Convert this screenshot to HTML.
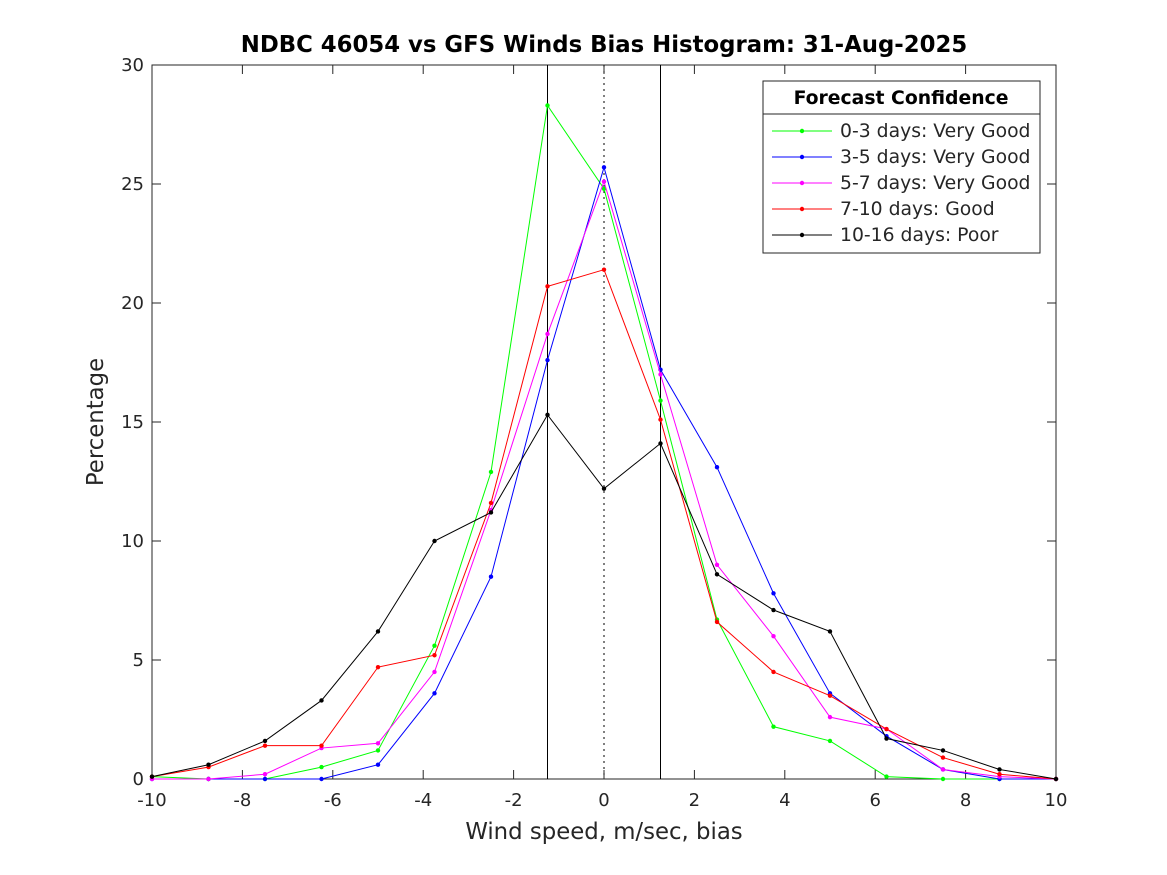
<!DOCTYPE html>
<html><head><meta charset="utf-8"><style>body{margin:0;background:#fff}svg{display:block}text{font-family:"DejaVu Sans","Liberation Sans",sans-serif;fill:#262626}</style></head>
<body>
<svg id="chart" width="1167" height="875" xmlns="http://www.w3.org/2000/svg">
<rect width="1167" height="875" fill="#fff"/>
<g id="plot"></g>
</svg>
<script>
const xBins = [-10,-8.75,-7.5,-6.25,-5,-3.75,-2.5,-1.25,0,1.25,2.5,3.75,5,6.25,7.5,8.75,10];
const seriesNames = ["0-3 days: Very Good","3-5 days: Very Good","5-7 days: Very Good","7-10 days: Good","10-16 days: Poor"];
const seriesColors = ["#00ff00","#0000ff","#ff00ff","#ff0000","#000000"];
const s03 = [0.1,0,0,0.5,1.2,5.6,12.9,28.3,24.8,15.9,6.7,2.2,1.6,0.1,0,0,0];
const s35 = [0,0,0,0,0.6,3.6,8.5,17.6,25.7,17.2,13.1,7.8,3.6,1.8,0.4,0,0];
const s57 = [0,0,0.2,1.3,1.5,4.5,11.3,18.7,25.1,17.0,9.0,6.0,2.6,2.1,0.4,0.1,0];
const s710 = [0.1,0.5,1.4,1.4,4.7,5.2,11.6,20.7,21.4,15.1,6.6,4.5,3.5,2.1,0.9,0.2,0];
const s1016 = [0.1,0.6,1.6,3.3,6.2,10.0,11.2,15.3,12.2,14.1,8.6,7.1,6.2,1.7,1.2,0.4,0];
const xTicks = [-10,-8,-6,-4,-2,0,2,4,6,8,10];
const yTicks = [0,5,10,15,20,25,30];
const allSeries = [s03,s35,s57,s710,s1016];

const L=152,R=1056,T=65,B=779;
const xs=v=>L+(v+10)/20*(R-L);
const ys=v=>B-v/30*(B-T);
const NS="http://www.w3.org/2000/svg";
const g=document.getElementById('plot');
function mk(tag,attrs,parent){const e=document.createElementNS(NS,tag);for(const k in attrs)e.setAttribute(k,attrs[k]);(parent||g).appendChild(e);return e;}

let e=mk('rect',{x:L,y:T,width:R-L,height:B-T,fill:'none',stroke:'#262626','stroke-width':1});


xTicks.forEach(t=>{
  const x=xs(t);
  mk('line',{x1:x,x2:x,y1:B,y2:B-9,stroke:'#262626'});
  mk('line',{x1:x,x2:x,y1:T,y2:T+9,stroke:'#262626'});
  const tx=mk('text',{x:x,y:B+27,'text-anchor':'middle','font-size':18});tx.textContent=t;
  
  
});
yTicks.forEach(t=>{
  const y=ys(t);
  mk('line',{x1:L,x2:L+9,y1:y,y2:y,stroke:'#262626'});
  mk('line',{x1:R,x2:R-9,y1:y,y2:y,stroke:'#262626'});
  const tx=mk('text',{x:L-8,y:y+6,'text-anchor':'end','font-size':18});tx.textContent=t;
  
  
});
[-1.25,1.25].forEach(v=>{
  e=mk('line',{x1:xs(v),x2:xs(v),y1:T,y2:B,stroke:'#000'});
  
  
});
e=mk('line',{x1:xs(0),x2:xs(0),y1:T,y2:B,stroke:'#000','stroke-dasharray':'2,4'});



allSeries.forEach((s,i)=>{
  const sg=mk('g',{});
  
  
  mk('polyline',{points:s.map((v,j)=>xs(xBins[j])+','+ys(v)).join(' '),fill:'none',stroke:seriesColors[i],'stroke-width':1},sg);
  s.forEach((v,j)=>{const c=mk('circle',{cx:xs(xBins[j]),cy:ys(v),r:2.2,fill:seriesColors[i]},sg);
    
    });
});

e=mk('text',{x:604,y:52,'text-anchor':'middle','font-size':22.8,'font-weight':'bold',style:'fill:#000'});
e.textContent='NDBC 46054 vs GFS Winds Bias Histogram: 31-Aug-2025';


e=mk('text',{x:604,y:839,'text-anchor':'middle','font-size':22.8});
e.textContent='Wind speed, m/sec, bias';


e=mk('text',{x:0,y:0,'text-anchor':'middle','font-size':22.8,transform:'translate(103,422) rotate(-90)'});
e.textContent='Percentage';



const lg=mk('g',{});


mk('rect',{x:763,y:81,width:277,height:172,fill:'#fff',stroke:'#262626'},lg);
mk('line',{x1:763,x2:1040,y1:114,y2:114,stroke:'#262626'},lg);
e=mk('text',{x:901,y:104,'text-anchor':'middle','font-size':18.8,'font-weight':'bold',style:'fill:#000'},lg);
e.textContent='Forecast Confidence';


seriesNames.forEach((n,i)=>{
  const y=131+i*26;
  const eg=mk('g',{},lg);
  
  
  mk('line',{x1:772,x2:832,y1:y,y2:y,stroke:seriesColors[i]},eg);
  mk('circle',{cx:802,cy:y,r:2.2,fill:seriesColors[i]},eg);
  const t=mk('text',{x:840,y:y+6,'font-size':18.8},eg);t.textContent=n;
});
</script>
</body></html>
